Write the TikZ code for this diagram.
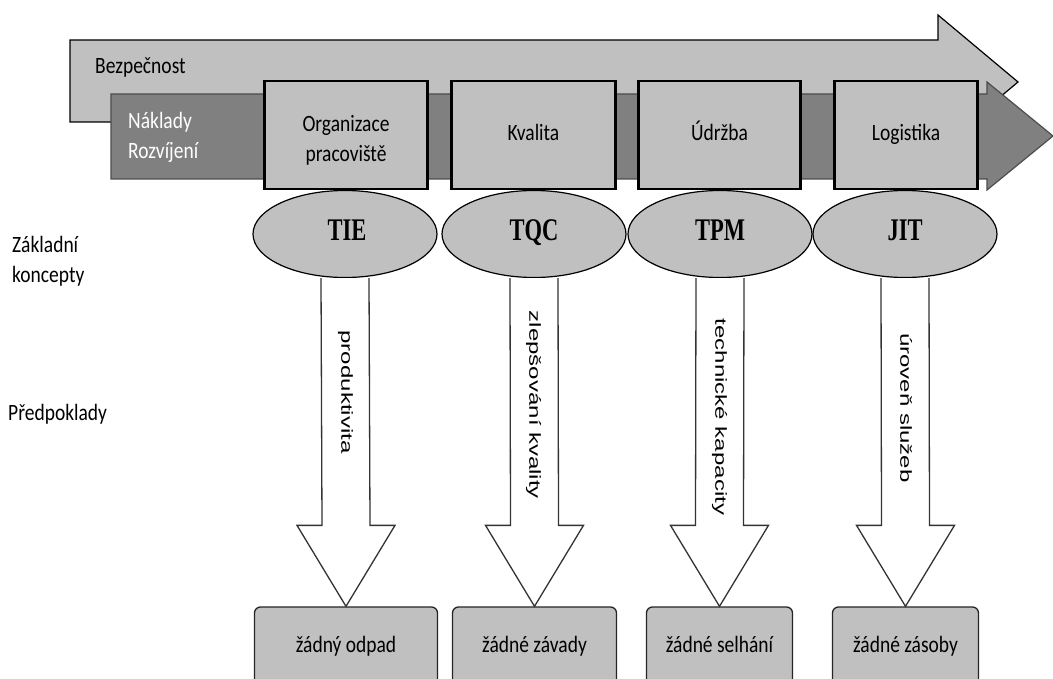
\documentclass[tikz,border=0pt]{standalone}
\usepackage{fontspec}
\setmainfont{Carlito}
\newfontfamily\serifb{Liberation Serif}
\newfontfamily\arialf{Liberation Sans}
\usetikzlibrary{shapes.geometric,calc}
\definecolor{lgray}{HTML}{C0C0C0}
\definecolor{dgray}{HTML}{808080}
\newcommand{\vtxt}[1]{\scalebox{1}[1.2]{\strut #1}}
\newcommand{\etxt}[1]{\scalebox{1}[1.4]{\serifb\bfseries\fontsize{22.5}{26}\selectfont #1}}
\newcommand{\rtxt}[1]{\scalebox{1.5}[1]{\arialf\fontsize{16}{18}\selectfont\strut #1}}
\tikzset{
  topbox/.style={draw=black, line width=2.6pt, fill=lgray, minimum height=108pt, inner sep=0pt, font=\fontsize{19.5}{25}\selectfont},
  concept/.style={ellipse, draw=black, line width=1.2pt, fill=lgray, minimum width=184pt, minimum height=87pt, inner sep=0pt},
  ctext/.style={anchor=base, inner sep=0pt},
  resbox/.style={draw=black!85, line width=1.3pt, fill=lgray, rounded corners=6pt, minimum height=78pt, inner sep=0pt, font=\fontsize{19.5}{25}\selectfont},
  lbl/.style={anchor=west, inner sep=0pt, font=\fontsize{19.5}{25}\selectfont},
  blockarrow/.style={draw=black!80, line width=1.3pt, fill=white},
  vlabel/.style={rotate=-90, inner sep=0pt}
}
\begin{document}
\begin{tikzpicture}[x=1pt,y=-1pt]
\clip (0,0) rectangle (1053,679);
\fill[white] (0,0) rectangle (1053,679);
% big arrows
\draw[fill=lgray, draw=black, line width=1.2pt] (70,40) -- (938,40) -- (938,15) -- (1018,82) -- (938,149) -- (938,122) -- (70,122) -- cycle;
\draw[fill=dgray, draw=black!70, line width=1.2pt] (111,94) -- (987,94) -- (987,82) -- (1053,136) -- (987,190) -- (987,179) -- (111,179) -- cycle;
\node[lbl] (bez) at (95,68) {\vtxt{Bezpečnost}};
\node[lbl, text=white] (nak) at (128,123) {\vtxt{Náklady}};
\node[lbl, text=white] (roz) at (128,153) {\vtxt{Rozvíjení}};
% concepts
\node[concept] (e1) at (345,234) {};
\node[concept] (e2) at (534,234) {};
\node[concept] (e3) at (720,234) {};
\node[concept] (e4) at (905,234) {};
\node[ctext] (t1) at (347,241) {\etxt{TIE}};
\node[ctext] (t2) at (534,241) {\etxt{TQC}};
\node[ctext] (t3) at (720,241) {\etxt{TPM}};
\node[ctext] (t4) at (905,241) {\etxt{JIT}};
% top boxes
\node[topbox, minimum width=163pt] (k1) at (346,135) {\raisebox{-6pt}[\height][\depth]{\scalebox{1}[1.2]{\begin{tabular}{@{}c@{}}Organizace\\pracoviště\end{tabular}}}};
\node[topbox, minimum width=164pt] (k2) at (533.5,135) {\vtxt{Kvalita}};
\node[topbox, minimum width=162pt] (k3) at (719.5,135) {\vtxt{Údržba}};
\node[topbox, minimum width=143pt] (k4) at (906,135) {\vtxt{Logistika}};
% result boxes
\node[resbox, minimum width=183pt] (b1) at (346,646) {\vtxt{žádný odpad}};
\node[resbox, minimum width=164pt] (b2) at (534.5,646) {\vtxt{žádné závady}};
\node[resbox, minimum width=146pt] (b3) at (719.5,646) {\vtxt{žádné selhání}};
\node[resbox, minimum width=146pt] (b4) at (905.5,646) {\vtxt{žádné zásoby}};
% block arrows
\foreach \e/\b in {e1/b1,e2/b2,e3/b3,e4/b4}{
  \draw[blockarrow] ($(\e.south)+(-24,0)$) -- ($(\b.north)+(-24,-81)$) -- ($(\b.north)+(-49,-81)$) -- (\b.north) -- ($(\b.north)+(49,-81)$) -- ($(\b.north)+(24,-81)$) -- ($(\e.south)+(24,0)$);
}
\node[vlabel] (v1) at (345,392) {\rtxt{produktivita}};
\node[vlabel] (v2) at (533,405) {\rtxt{zlepšování kvality}};
\node[vlabel] (v3) at (719,417) {\rtxt{technické kapacity}};
\node[vlabel] (v4) at (904,408) {\rtxt{úroveň služeb}};
% left labels
\node[lbl] (zak) at (12,247) {\vtxt{Základní}};
\node[lbl] (kon) at (12,277) {\vtxt{koncepty}};
\node[lbl] (pre) at (8,414) {\vtxt{Předpoklady}};
\end{tikzpicture}
\end{document}
